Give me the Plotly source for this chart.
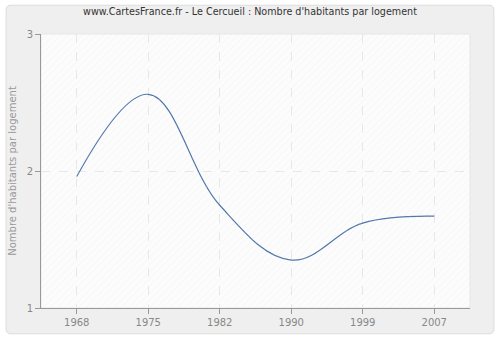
import plotly.graph_objects as go

years = ["1968", "1975", "1982", "1990", "1999", "2007"]
values = [1.96, 2.56, 1.75, 1.35, 1.62, 1.67]
y_ticks = [1, 2, 3]

title = "www.CartesFrance.fr - Le Cercueil : Nombre d'habitants par logement"
y_title = "Nombre d'habitants par logement"

fig = go.Figure()

# hatched background panel on an overlay axis (decoration)
fig.add_trace(go.Scatter(
    x=[0, 1, 1, 0, 0], y=[0, 0, 1, 1, 0], xaxis="x2", yaxis="y2",
    mode="lines", line=dict(width=0), fill="toself",
    fillcolor="rgba(0,0,0,0)",
    fillpattern=dict(shape="/", fgcolor="rgba(215,215,215,0.45)", bgcolor="rgba(0,0,0,0)",
                     size=5, solidity=0.15),
    hoverinfo="skip", showlegend=False,
))

fig.add_trace(go.Scatter(
    x=years, y=values, mode="lines",
    line=dict(color="#4f77aa", width=1.2, shape="spline", smoothing=1.1),
    showlegend=False,
))

# outer rounded panel
l, r, t, b = 40, 30, 34, 30
W, H = 500, 340
pw, ph = W - l - r, H - t - b
def px(x): return (x - l) / pw
def py(y): return (H - b - y) / ph
x0, x1, y0, y1 = px(5), px(494), py(336), py(5)
rx, ry = 5 / pw, 5 / ph
path = (f"M {x0+rx},{y0} L {x1-rx},{y0} Q {x1},{y0} {x1},{y0+ry} "
        f"L {x1},{y1-ry} Q {x1},{y1} {x1-rx},{y1} L {x0+rx},{y1} "
        f"Q {x0},{y1} {x0},{y1-ry} L {x0},{y0+ry} Q {x0},{y0} {x0+rx},{y0} Z")
fig.add_shape(type="path", path=path, xref="paper", yref="paper",
              fillcolor="#efefef", line=dict(color="#dcdcdc", width=1), layer="below")
# plot area panel
fig.add_shape(type="rect", x0=0, x1=1, y0=0, y1=1, xref="paper", yref="paper",
              fillcolor="#fcfcfc", line=dict(color="#e6e6e6", width=1), layer="below")

axis_font = dict(family="DejaVu Sans", size=10, color="#888888")
fig.update_layout(
    width=W, height=H,
    margin=dict(l=l, r=r, t=t, b=b),
    paper_bgcolor="white",
    plot_bgcolor="rgba(0,0,0,0)",
    title=dict(text=title, x=0.5, xanchor="center", y=0.965, yanchor="middle",
               font=dict(family="DejaVu Sans", size=9.6, color="#333333")),
    xaxis=dict(
        type="category", range=[-0.5, 5.5],
        showgrid=True, gridcolor="#e8e8e8", griddash="dash", gridwidth=1,
        showline=True, linecolor="#999999", linewidth=1,
        ticks="outside", ticklen=5, tickcolor="#999999",
        tickfont=axis_font, zeroline=False, mirror=False,
    ),
    yaxis=dict(
        range=[1, 3], tickvals=y_ticks,
        showgrid=True, gridcolor="#e8e8e8", griddash="dash", gridwidth=1,
        showline=True, linecolor="#999999", linewidth=1,
        ticks="outside", ticklen=5, tickcolor="#999999",
        tickfont=axis_font, zeroline=False,
        title=dict(text=y_title, font=dict(family="DejaVu Sans", size=10, color="#999999"), standoff=8),
    ),
    xaxis2=dict(overlaying="x", range=[0, 1], visible=False, fixedrange=True),
    yaxis2=dict(overlaying="y", range=[0, 1], visible=False, fixedrange=True),
)

fig.write_html("out.html")
